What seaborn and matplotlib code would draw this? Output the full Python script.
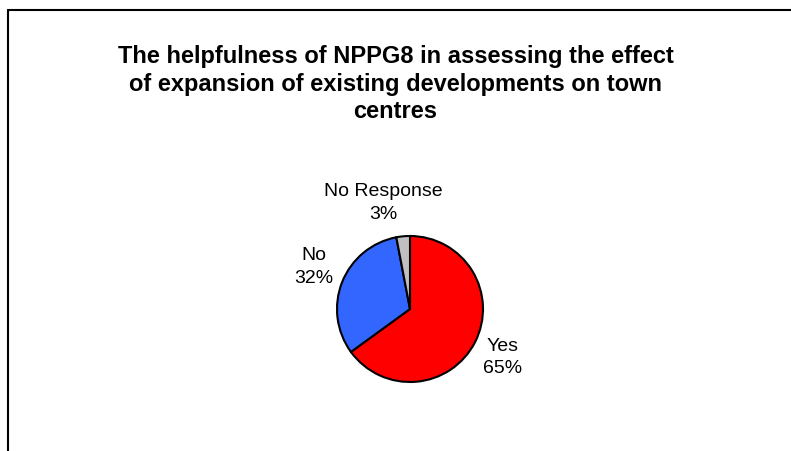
import numpy as np
import matplotlib
matplotlib.use("Agg")
import matplotlib.pyplot as plt
from matplotlib.lines import Line2D
import seaborn as sns

# survey answers
categories = ["Yes", "No", "No Response"]
shares = [65, 32, 3]
colors = ["#FF0000", "#3366FF", "#C0C0C0"]

# label placement: distance from centre (in radii) and angle nudge (deg)
label_dist = [1.43, 1.44, 1.51]
label_nudge = [0, -2.5, 8.6]

title = ("The helpfulness of NPPG8 in assessing the effect\n"
         "of expansion of existing developments on town\ncentres")

sns.set_theme(style="white")
plt.rcParams["font.family"] = ["Liberation Sans", "DejaVu Sans"]
plt.rcParams["text.color"] = "black"

W, H = 791, 452
fig = plt.figure(figsize=(W / 100, H / 100), dpi=100)
fig.patch.set_facecolor("white")

# pie centre and radius in pixels
cx, cy, r = 410, 310, 73
ax = fig.add_axes([(cx - r) / W, 1 - (cy + r) / H, 2 * r / W, 2 * r / H])
palette = sns.color_palette(colors)
wedges, _ = ax.pie(shares, colors=palette, startangle=90, counterclock=False,
                   radius=1, wedgeprops=dict(edgecolor="black", linewidth=1.5))
ax.set_xlim(-1, 1)
ax.set_ylim(-1, 1)
ax.set_aspect("equal")
ax.axis("off")

for w, cat, val, d, nd in zip(wedges, categories, shares, label_dist, label_nudge):
    ang = np.deg2rad((w.theta1 + w.theta2) / 2 + nd)
    ax.text(d * np.cos(ang), d * np.sin(ang), f"{cat}\n{val}%",
            ha="center", va="center", fontsize=14, linespacing=1.4,
            color="black", clip_on=False)

fig.text(0.5, 1 - 84 / H, title, ha="center", va="center", fontsize=17,
         fontweight="bold", linespacing=1.27, color="black")

# chart area border (left and top edges visible)
fig.add_artist(Line2D([7.5 / W, 7.5 / W], [0, 1 - 10.5 / H], color="black", lw=1.5,
                      transform=fig.transFigure))
fig.add_artist(Line2D([7.5 / W, 1], [1 - 10.5 / H, 1 - 10.5 / H], color="black", lw=1.5,
                      transform=fig.transFigure))

fig.savefig("out.png", dpi=100)
